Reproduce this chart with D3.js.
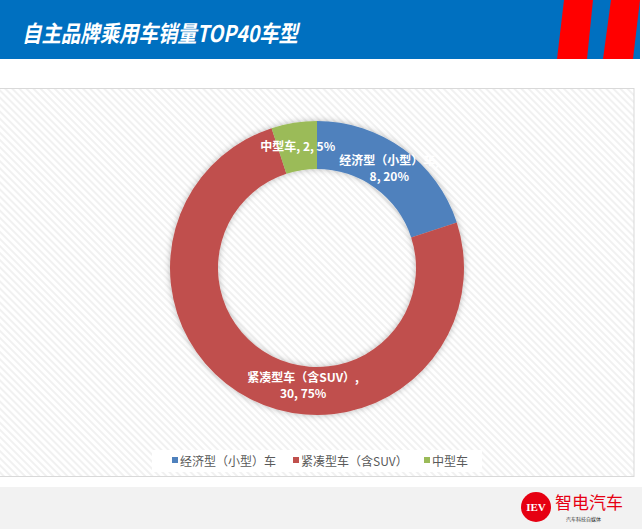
<!DOCTYPE html>
<html>
<head>
<meta charset="utf-8">
<script src="https://cdn.jsdelivr.net/npm/d3@7"></script>
<style>
  body { margin: 0; background: #fff; }
  svg { display: block; font-family: "Noto Sans CJK SC", "Noto Sans", sans-serif; }
</style>
</head>
<body>
<svg id="chart" width="642" height="529"></svg>
<script>
/* chart data */
const categories = ['经济型（小型）车', '紧凑型车（含SUV）', '中型车'];
const counts = [8, 30, 2];
const percents = ['20%', '75%', '5%'];
const colors = ['#4F81BD', '#C0504D', '#9BBB59'];
const titleText = '自主品牌乘用车销量TOP40车型';

/* canvas sizes */
const width = 642, height = 529;
const center = { x: 317, y: 268 };
const outerR = 147, innerR = 99;

const svg = d3.select('#chart');
const defs = svg.append('defs');

/* diagonal stripes for the plot background */
const pat = defs.append('pattern')
    .attr('id', 'stripes')
    .attr('width', 5).attr('height', 5)
    .attr('patternUnits', 'userSpaceOnUse')
    .attr('patternTransform', 'rotate(-45)');
pat.append('rect').attr('width', 5).attr('height', 5).attr('fill', '#ffffff');
pat.append('rect').attr('width', 2).attr('height', 5).attr('fill', '#f1f1f1');

/* soft shadow around the ring */
const f = defs.append('filter').attr('id', 'shadow')
    .attr('x', '-20%').attr('y', '-20%').attr('width', '140%').attr('height', '140%');
f.append('feDropShadow')
    .attr('dx', 0).attr('dy', 0)
    .attr('stdDeviation', 3)
    .attr('flood-color', '#000').attr('flood-opacity', 0.28);

/* header bar */
svg.append('rect').attr('x', 0).attr('y', 0).attr('width', 640).attr('height', 59).attr('fill', '#0070C0');
svg.append('polygon').attr('points', '564,0 593,0 587,59 557,59').attr('fill', '#FF0000');
svg.append('polygon').attr('points', '611,0 640,0 633,59 603,59').attr('fill', '#FF0000');
svg.append('rect').attr('x', 640).attr('y', 0).attr('width', 2).attr('height', 59).attr('fill', '#fff');
svg.append('text')
    .attr('x', 22).attr('y', 42)
    .attr('fill', '#fff')
    .attr('font-size', 23)
    .attr('font-weight', 'bold')
    .attr('font-style', 'italic')
    .attr('textLength', 276)
    .attr('lengthAdjust', 'spacingAndGlyphs')
    .text(titleText);

/* plot area */
svg.append('rect')
    .attr('x', -1).attr('y', 88.5).attr('width', 635).attr('height', 388)
    .attr('fill', 'url(#stripes)')
    .attr('stroke', '#d9d9d9').attr('stroke-width', 1);

/* footer */
svg.append('rect').attr('x', 0).attr('y', 487).attr('width', width).attr('height', 42).attr('fill', '#f2f2f2');

/* donut */
const pie = d3.pie().sort(null).value(d => d);
const arcs = pie(counts);
const arc = d3.arc().innerRadius(innerR).outerRadius(outerR);

const g = svg.append('g').attr('transform', `translate(${center.x},${center.y})`);
g.append('g').attr('filter', 'url(#shadow)')
    .selectAll('path')
    .data(arcs)
    .join('path')
    .attr('d', arc)
    .attr('fill', (d, i) => colors[i]);

/* data labels */
const labelArc = d3.arc().innerRadius((innerR + outerR) / 2).outerRadius((innerR + outerR) / 2);
const labelLines = [
    [categories[0] + ',', counts[0] + ', ' + percents[0]],
    [categories[1] + ',', counts[1] + ', ' + percents[1]],
    [categories[2] + ', ' + counts[2] + ', ' + percents[2]]
];
const labelShift = [[0, 0], [42, 8], [0, 0]];

g.selectAll('text.lbl')
    .data(arcs)
    .join('text')
    .attr('class', 'lbl')
    .attr('fill', '#fff')
    .attr('font-size', 12)
    .attr('font-weight', 'bold')
    .attr('text-anchor', 'middle')
    .each(function(d, i) {
        const [cx, cy] = labelArc.centroid(d);
        const lines = labelLines[i];
        const x = cx + labelShift[i][0];
        const y0 = cy + labelShift[i][1] - (lines.length - 1) * 8 + 4;
        d3.select(this).selectAll('tspan')
            .data(lines)
            .join('tspan')
            .attr('x', x)
            .attr('y', (t, j) => y0 + j * 16)
            .text(t => t);
    });

/* legend */
svg.append('rect').attr('x', 152).attr('y', 450).attr('width', 330).attr('height', 22).attr('fill', '#fff');
const legendX = [172, 293, 424];
const legend = svg.append('g');
categories.forEach((c, i) => {
    legend.append('rect')
        .attr('x', legendX[i]).attr('y', 457)
        .attr('width', 6).attr('height', 6)
        .attr('fill', colors[i]);
    legend.append('text')
        .attr('x', legendX[i] + 8).attr('y', 465.5)
        .attr('font-size', 12)
        .attr('fill', '#595959')
        .text(c);
});

/* logo */
const logo = svg.append('g');
logo.append('circle').attr('cx', 536).attr('cy', 507).attr('r', 15).attr('fill', '#E60012');
logo.append('text')
    .attr('x', 536).attr('y', 511)
    .attr('text-anchor', 'middle')
    .attr('fill', '#fff')
    .attr('font-family', '"Liberation Serif", serif')
    .attr('font-weight', 'bold')
    .attr('font-size', 11)
    .text('IEV');
logo.append('text')
    .attr('x', 555).attr('y', 509)
    .attr('fill', '#E60012')
    .attr('font-size', 17)
    .text('智电汽车');
logo.append('text')
    .attr('x', 566).attr('y', 521)
    .attr('fill', '#333')
    .attr('font-size', 5)
    .text('汽车科技自媒体');
</script>
</body>
</html>
